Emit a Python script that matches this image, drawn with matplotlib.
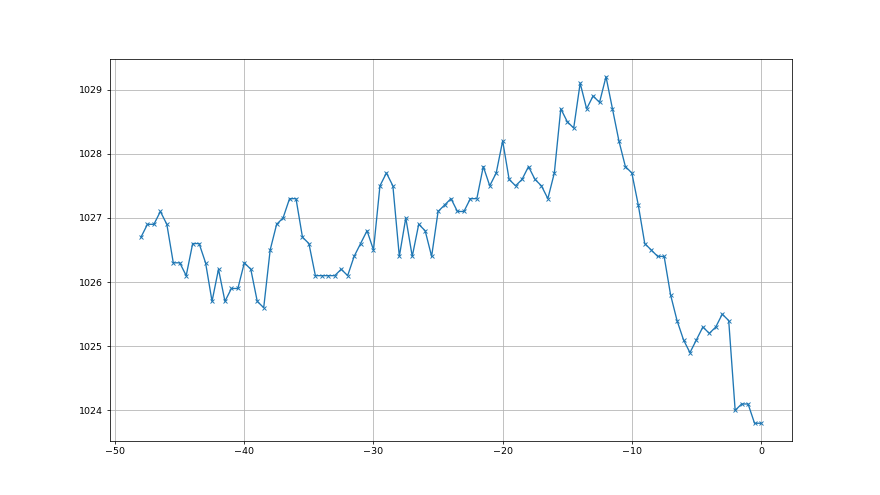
import numpy as np
import matplotlib
matplotlib.use("Agg")
import matplotlib.pyplot as plt

# time offsets (step 0.5) and pressure readings
x = np.arange(-48, 0.01, 0.5)
pressure = [
    1026.7, 1026.9, 1026.9, 1027.1, 1026.9, 1026.3, 1026.3, 1026.1, 1026.6, 1026.6,
    1026.3, 1025.7, 1026.2, 1025.7, 1025.9, 1025.9, 1026.3, 1026.2, 1025.7, 1025.6,
    1026.5, 1026.9, 1027.0, 1027.3, 1027.3, 1026.7, 1026.6, 1026.1, 1026.1, 1026.1,
    1026.1, 1026.2, 1026.1, 1026.4, 1026.6, 1026.8, 1026.5, 1027.5, 1027.7, 1027.5,
    1026.4, 1027.0, 1026.4, 1026.9, 1026.8, 1026.4, 1027.1, 1027.2, 1027.3, 1027.1,
    1027.1, 1027.3, 1027.3, 1027.8, 1027.5, 1027.7, 1028.2, 1027.6, 1027.5, 1027.6,
    1027.8, 1027.6, 1027.5, 1027.3, 1027.7, 1028.7, 1028.5, 1028.4, 1029.1, 1028.7,
    1028.9, 1028.8, 1029.2, 1028.7, 1028.2, 1027.8, 1027.7, 1027.2, 1026.6, 1026.5,
    1026.4, 1026.4, 1025.8, 1025.4, 1025.1, 1024.9, 1025.1, 1025.3, 1025.2, 1025.3,
    1025.5, 1025.4, 1024.0, 1024.1, 1024.1, 1023.8, 1023.8,
]

fig, ax = plt.subplots(figsize=(12.8, 7.2), dpi=68.75)
ax.plot(x, pressure, marker='x', markersize=4.5, linewidth=1.4)
ax.grid(True)
ax.ticklabel_format(useOffset=False)

fig.savefig("out.png", dpi=68.75)
